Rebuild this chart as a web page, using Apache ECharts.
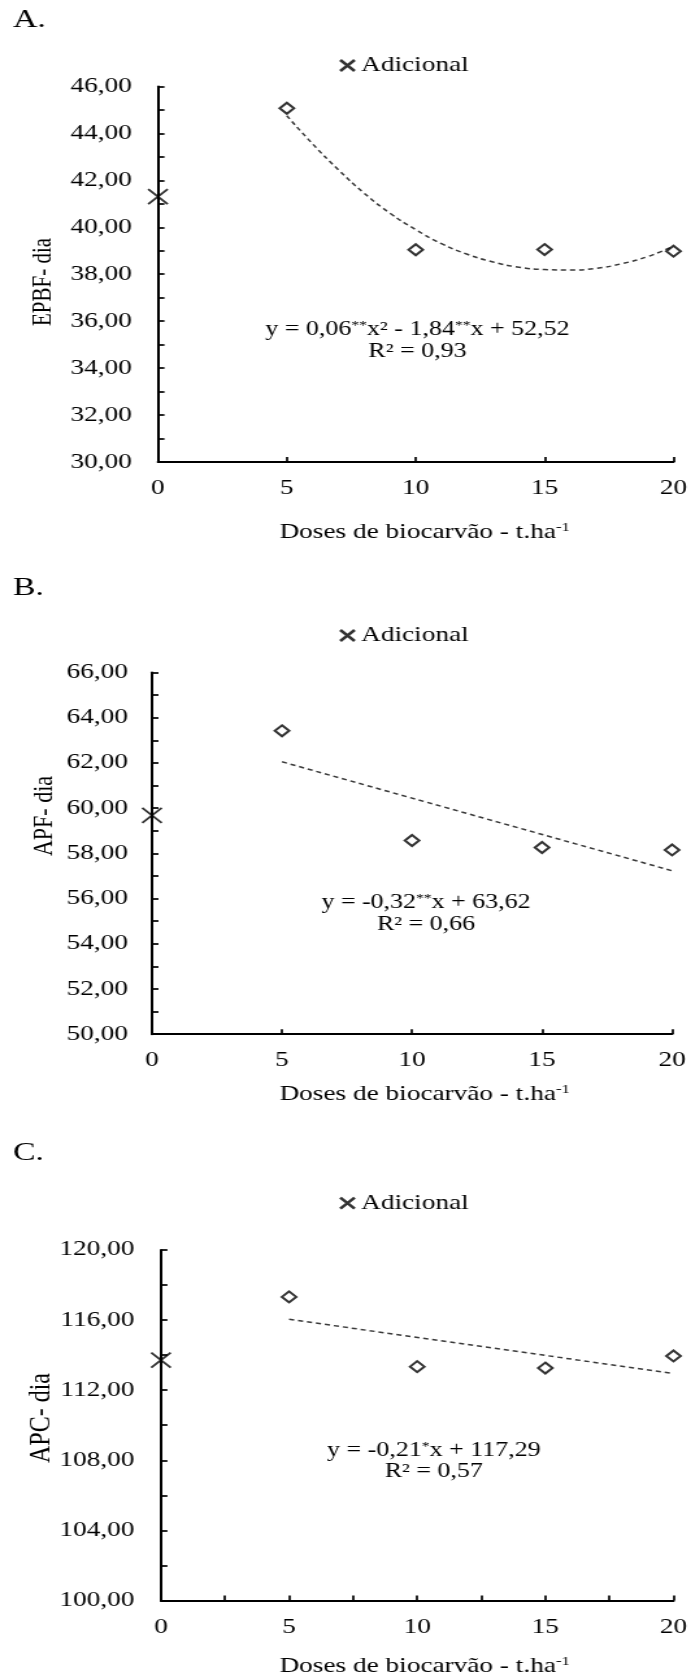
<!DOCTYPE html>
<html>
<head>
<meta charset="utf-8">
<script src="https://cdn.jsdelivr.net/npm/echarts@6/dist/echarts.min.js"></script>
<style>
  html, body { margin: 0; padding: 0; background: #fff; overflow: hidden; }
  /* the source figure is stretched horizontally, so draw narrow and stretch */
  #main { width: 532px; height: 1678px; transform: scaleX(1.2989); transform-origin: 0 0; }
</style>
</head>
<body>
<div id="main"></div>
<script>
// doses de biocarvão (t/ha)
const doses = [5, 10, 15, 20];
const xLabels = [0, 5, 10, 15, 20];

// A. EPBF - dia
const epbf = [45.07, 39.04, 39.05, 38.98];
const epbfAdicional = 41.3;
// dashed quadratic trend
const epbfTrendX = [5, 6, 7, 8, 9, 10, 11, 12, 13, 14, 15, 16, 17, 18, 19, 20];
const epbfTrendY = [44.75, 43.55, 42.45, 41.45, 40.6, 39.9, 39.3, 38.85, 38.52, 38.3, 38.2, 38.18, 38.25, 38.45, 38.75, 39.2];
const yLabelsA = [30, 32, 34, 36, 38, 40, 42, 44, 46];

// B. APF - dia
const apf = [63.42, 58.57, 58.26, 58.15];
const apfAdicional = 59.68;
const apfTrendX = [5, 20];
const apfTrendY = [62.05, 57.23];
const yLabelsB = [50, 52, 54, 56, 58, 60, 62, 64, 66];

// C. APC - dia
const apc = [117.32, 113.34, 113.26, 113.95];
const apcAdicional = 113.71;
const apcTrendX = [5, 20];
const apcTrendY = [116.04, 112.95];
const yLabelsC = [100, 104, 108, 112, 116, 120];

const FONT = 'Liberation Serif';
const crossPath = 'path://M0,0L10,10M10,0L0,10';

function fmt(v) {
  return v.toFixed(2).replace('.', ',');
}
function pairs(xs, ys) {
  return xs.map(function (x, k) { return [x, ys[k]]; });
}

const panels = [
  {grid: {left: 121.6, top: 86.4, width: 396.9, height: 375.6}, yLabels: yLabelsA, yStep: 1, xStep: 5, labelMargin: 20,
    values: epbf, adicional: epbfAdicional, trend: pairs(epbfTrendX, epbfTrendY), smooth: true, legendTop: 55},
  {grid: {left: 117, top: 672.5, width: 400.4, height: 361.7}, yLabels: yLabelsB, yStep: 1, xStep: 5, labelMargin: 18.5,
    values: apf, adicional: apfAdicional, trend: pairs(apfTrendX, apfTrendY), smooth: false, legendTop: 625},
  {grid: {left: 123.9, top: 1249.9, width: 396.2, height: 350.6}, yLabels: yLabelsC, yStep: 2, xStep: 2.5, labelMargin: 20.4,
    values: apc, adicional: apcAdicional, trend: pairs(apcTrendX, apcTrendY), smooth: false, legendTop: 1192.6}
];

const grid = [], xAxis = [], yAxis = [], series = [], legend = [];

panels.forEach(function (p, i) {
  grid.push(p.grid);
  xAxis.push({
    gridIndex: i, type: 'value',
    min: xLabels[0], max: xLabels[xLabels.length - 1], interval: p.xStep,
    splitLine: {show: false},
    axisLine: {lineStyle: {color: '#000', width: 2}},
    axisTick: {inside: true, length: 5, lineStyle: {color: '#000', width: 1.7}},
    axisLabel: {
      margin: 16, color: '#000', fontFamily: FONT, fontSize: 21,
      formatter: function (v) { return xLabels.indexOf(v) >= 0 ? String(v) : ''; }
    }
  });
  yAxis.push({
    gridIndex: i, type: 'value',
    min: p.yLabels[0], max: p.yLabels[p.yLabels.length - 1], interval: p.yStep,
    splitLine: {show: false},
    axisLine: {show: true, lineStyle: {color: '#000', width: 2}},
    axisTick: {show: true, inside: true, length: 5, lineStyle: {color: '#000', width: 1.7}},
    axisLabel: {
      margin: p.labelMargin, color: '#000', fontFamily: FONT, fontSize: 21,
      formatter: function (v) { return p.yLabels.indexOf(v) >= 0 ? fmt(v) : ''; }
    }
  });
  series.push({
    name: 'Tendência', type: 'line', xAxisIndex: i, yAxisIndex: i,
    data: p.trend, smooth: p.smooth, showSymbol: false, z: 2,
    lineStyle: {color: '#3a3a3a', width: 1.5, type: [4, 3]}
  });
  series.push({
    name: 'Doses', type: 'scatter', xAxisIndex: i, yAxisIndex: i,
    data: pairs(doses, p.values),
    symbol: 'diamond', symbolSize: 11, z: 3,
    itemStyle: {color: '#fff', borderColor: '#000', borderWidth: 2}
  });
  series.push({
    name: 'Adicional', type: 'scatter', xAxisIndex: i, yAxisIndex: i,
    data: [[0, p.adicional]],
    symbol: crossPath, symbolSize: 15, z: 4,
    itemStyle: {color: 'none', borderColor: '#000', borderWidth: 1.8}
  });
  legend.push({
    data: ['Adicional'], left: 259.5, top: p.legendTop, padding: 0,
    selectedMode: false, icon: crossPath, itemWidth: 11, itemHeight: 11,
    itemStyle: {color: 'none', borderColor: '#000', borderWidth: 2.5},
    textStyle: {color: '#000', fontFamily: FONT, fontSize: 21}
  });
});

function txt(x, y, text, size, extra) {
  const style = {
    text: text, fill: '#000', font: size + 'px "' + FONT + '"',
    align: 'center', verticalAlign: 'middle', textAlign: 'center', textVerticalAlign: 'middle',
    rich: {
      sup: {fontSize: Math.round(size * 0.62), fontFamily: FONT, verticalAlign: 'top', lineHeight: 12, fill: '#000'}
    }
  };
  return Object.assign({type: 'text', x: x, y: y, style: style}, extra || {});
}

const xName = 'Doses de biocarvão - t.ha{sup|-1}';

const graphic = [
  // panel letters
  txt(10, 20, 'A.', 26), txt(10, 588, 'B.', 26), txt(10, 1153, 'C.', 26),
  // axis names
  txt(327, 532, xName, 21), txt(327, 1094, xName, 21), txt(327, 1666, xName, 21),
  txt(33, 282, 'EPBF- dia', 21, {rotation: Math.PI / 2}),
  txt(34, 816, 'APF- dia', 22, {rotation: Math.PI / 2}),
  txt(32, 1418, 'APC- dia', 24, {rotation: Math.PI / 2}),
  // equations
  txt(321.4, 330, 'y = 0,06{sup|**}x² - 1,84{sup|**}x + 52,52', 20), txt(321.4, 352, 'R² = 0,93', 20),
  txt(328, 903, 'y = -0,32{sup|**}x + 63,62', 20), txt(328, 925, 'R² = 0,66', 20),
  txt(334, 1451, 'y = -0,21{sup|*}x + 117,29', 20), txt(334, 1472, 'R² = 0,57', 20)
];
// panel letters are left aligned
[0, 1, 2].forEach(function (k) {
  graphic[k].style.align = 'left';
  graphic[k].style.textAlign = 'left';
});

const chart = echarts.init(document.getElementById('main'));
chart.setOption({
  animation: false,
  backgroundColor: '#fff',
  grid: grid,
  xAxis: xAxis,
  yAxis: yAxis,
  legend: legend,
  graphic: graphic,
  series: series
});
</script>
</body>
</html>
